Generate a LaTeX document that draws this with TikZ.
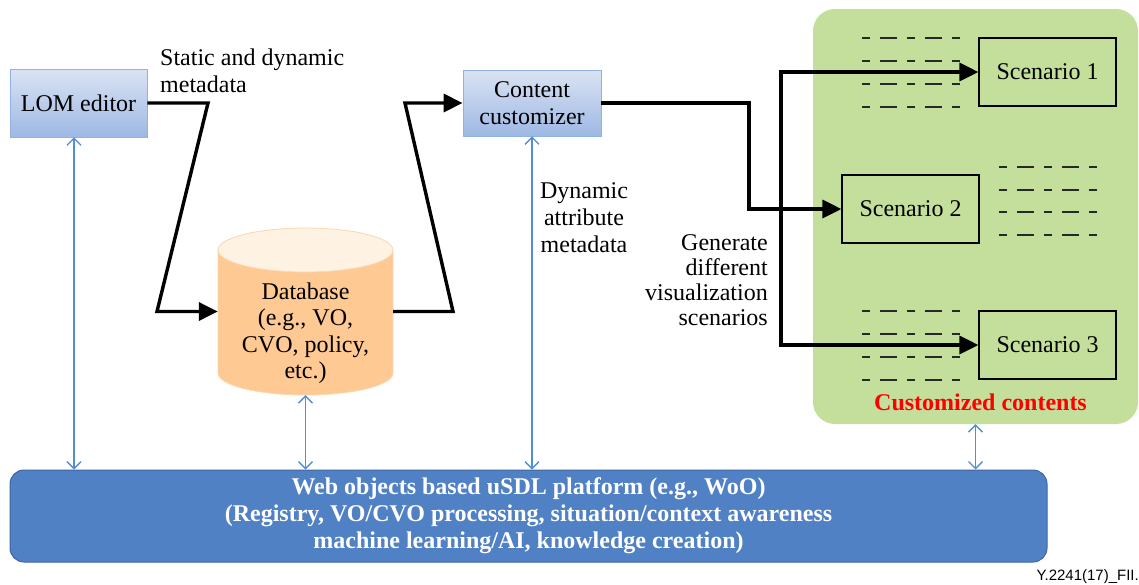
\documentclass[tikz,border=0pt]{standalone}
\usepackage{fontspec}
\setmainfont{Liberation Serif}
\newfontfamily\sansf{Liberation Sans}
\usetikzlibrary{arrows.meta}
\definecolor{boxtop}{RGB}{218,227,243}
\definecolor{boxbot}{RGB}{158,184,228}
\definecolor{boxline}{RGB}{141,180,226}
\definecolor{dbbody}{RGB}{255,201,148}
\definecolor{dbtop}{RGB}{254,242,226}
\definecolor{dbline}{RGB}{250,215,175}
\definecolor{greenbg}{RGB}{196,223,156}
\definecolor{platfill}{RGB}{80,129,196}
\definecolor{platline}{RGB}{62,102,160}
\definecolor{linkblue}{RGB}{84,141,212}
\definecolor{dashgray}{RGB}{40,40,40}
\begin{document}
\begin{tikzpicture}[x=1pt,y=-1pt,
  every node/.style={font=\fontsize{24}{26.5}\selectfont, inner sep=0pt},
  bluebox/.style={draw=boxline, line width=0.8pt, top color=boxtop, bottom color=boxbot, align=center},
  scenbox/.style={draw=black, line width=1.2pt, minimum width=137pt, minimum height=68pt},
  flow/.style={line width=3.4pt, -{Triangle[length=19pt,width=18pt]}},
  link/.style={draw=linkblue, line width=1.3pt, {Straight Barb[length=7pt,width=14pt]}-{Straight Barb[length=7pt,width=14pt]}},
  dashrow/.style={draw=dashgray, line width=1.8pt, dash pattern=on 8pt off 10pt on 17pt off 10pt}
]
\useasboundingbox (0,0) rectangle (1139,584);

% green area
\node[fill=greenbg, rounded corners=22pt, minimum width=325pt, minimum height=415pt] (green) at (975.5,216.5) {};

% dashed rows
\foreach \y in {38,61,84,107} \draw[dashrow] (862,\y) -- (960,\y);
\foreach \y in {167,190,212,235} \draw[dashrow] (999,\y) -- (1097,\y);
\foreach \y in {311,334,357,380} \draw[dashrow] (862,\y) -- (960,\y);

% scenarios
\node[scenbox] (s1) at (1047.5,72) {Scenario 1};
\node[scenbox] (s2) at (910.5,209) {Scenario 2};
\node[scenbox] (s3) at (1047.5,345) {Scenario 3};
\node[anchor=base, font=\bfseries\fontsize{24}{26.5}\selectfont, text=red] (lblcust) at (980.5,410) {Customized contents};

% database cylinder
\fill[dbbody] (218,250) -- (218,373) arc[start angle=180,end angle=360,x radius=87.5pt,y radius=22pt] -- (393,250) -- cycle;
\draw[dbline, line width=0.8pt] (218,250) -- (218,373) arc[start angle=180,end angle=360,x radius=87.5pt,y radius=22pt] -- (393,250);
\filldraw[fill=dbtop, draw=dbline, line width=0.8pt] (305.5,250) ellipse[x radius=87.5pt, y radius=22pt];
\node[minimum width=175pt, minimum height=167pt] (db) at (305.5,311.5) {};
\node[align=center] (dbtext) at (305.5,333) {Database\\(e.g., VO,\\CVO, policy,\\etc.)};

% blue boxes
\node[bluebox, minimum width=137pt, minimum height=68pt] (lom) at (78.5,103) {LOM editor};
\node[bluebox, minimum width=138pt, minimum height=66pt] (cc) at (532,103) {Content\\customizer};

% platform
\node[fill=platfill, draw=platline, line width=1pt, rounded corners=14pt, minimum width=1037pt, minimum height=92pt, text=white, align=center, font=\bfseries\fontsize{24}{27}\selectfont] (plat) at (528.5,516) {Web objects based uSDL platform (e.g., WoO)\\(Registry, VO/CVO processing, situation/context awareness\\machine learning/AI, knowledge creation)};

% labels
\node[anchor=north west, align=left, font=\fontsize{24}{27}\selectfont] (lblstatic) at (160,48.6) {Static and dynamic\\metadata};
\node[anchor=north, align=center, font=\fontsize{24}{27}\selectfont] (lbldyn) at (584,182) {Dynamic\\attribute\\metadata};
\node[anchor=north east, align=right, font=\fontsize{24}{25}\selectfont] (lblgen) at (768,234) {Generate\\different\\visualization\\scenarios};
\node[anchor=base east, font=\sansf\fontsize{15}{18}\selectfont] (fig) at (1139,580) {Y.2241(17)\_FII.};

% flow arrows
\draw[flow] (lom.east) -- (208,103) -- (157,311.5) -- (db.west);
\draw[flow] (db.east) -- (453,311.5) -- (405,103) -- (cc.west);
\draw[flow] (cc.east) -- (749,103) |- (s2.west);
\coordinate (br) at (781,209);
\draw[flow] (br) |- (s1.west);
\draw[flow] (br) |- (s3.west);

% platform links
\coordinate (lomb) at ([xshift=-4.5pt]lom.south);
\draw[link] (lomb) -- (lomb |- plat.north);
\draw[link] (db.south) -- (db.south |- plat.north);
\draw[link] (cc.south) -- (cc.south |- plat.north);
\draw[link] (green.south) -- (green.south |- plat.north);
\end{tikzpicture}
\end{document}
